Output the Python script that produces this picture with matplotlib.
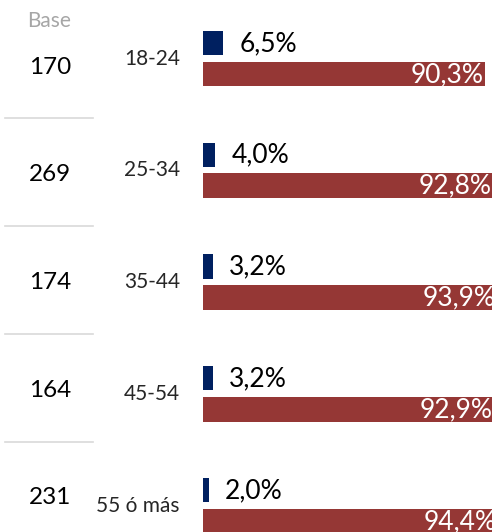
import matplotlib.pyplot as plt

plt.rcParams['font.family'] = ['Lato', 'DejaVu Sans']

# Survey results by age group
bases = [170, 269, 174, 164, 231]
age_groups = ["18-24", "25-34", "35-44", "45-54", "55 ó más"]
blue_pct = [6.5, 4.0, 3.2, 3.2, 2.0]
red_pct = [90.3, 92.8, 93.9, 92.9, 94.4]

BLUE = "#002060"
RED = "#953735"

W, H = 492, 532
fig = plt.figure(figsize=(W / 100, H / 100), dpi=100)

# bar panel: x=0 at 203 px, 1% = 3.123 px; one group per 111.75 px
x0 = 203
ax = fig.add_axes([x0 / W, 0, 1 - x0 / W, 1])
ax.set_xlim(0, (W - x0) / 3.123)
pitch = 111.75
ax.set_ylim((H - 43) / pitch, -43 / pitch)
ax.axis("off")

idx = list(range(len(age_groups)))
blue_y = [i for i in idx]
red_y = [i + 0.277 for i in idx]

ax.barh(blue_y, blue_pct, height=0.215, left=0, color=BLUE)
ax.barh(red_y, red_pct, height=0.222, left=0, color=RED)

px = 1 / 3.123  # one pixel in data units
for i in idx:
    ax.text(blue_pct[i] + 16 * px, blue_y[i] + 0.005, f"{blue_pct[i]:.1f}".replace(".", ",") + "%",
            ha="left", va="center", fontsize=19, color="black")
    ax.text(red_pct[i] - 1 * px, red_y[i] + 0.005, f"{red_pct[i]:.1f}".replace(".", ",") + "%",
            ha="right", va="center", fontsize=19, color="white")
    # age labels are right-aligned at 180 px
    ax.text((180 - x0) / (W - x0), blue_y[i] + 0.14, age_groups[i],
            transform=ax.get_yaxis_transform(), ha="right", va="center",
            fontsize=15, color="#262626")

# base column with separators
fig.text(49 / W, 1 - 21 / H, "Base", ha="center", va="center", fontsize=15, color="#a6a6a6")
for i, b in enumerate(bases):
    fig.text(50 / W, 1 - (67 + 107.7 * i) / H, str(b), ha="center", va="center",
             fontsize=17.5, color="black")
    if i < len(bases) - 1:
        yy = 1 - (118 + 108 * i) / H
        fig.add_artist(plt.Line2D([5 / W, 93 / W], [yy, yy], color="#d9d9d9", lw=1.2))

fig.savefig("out.png", dpi=100)
